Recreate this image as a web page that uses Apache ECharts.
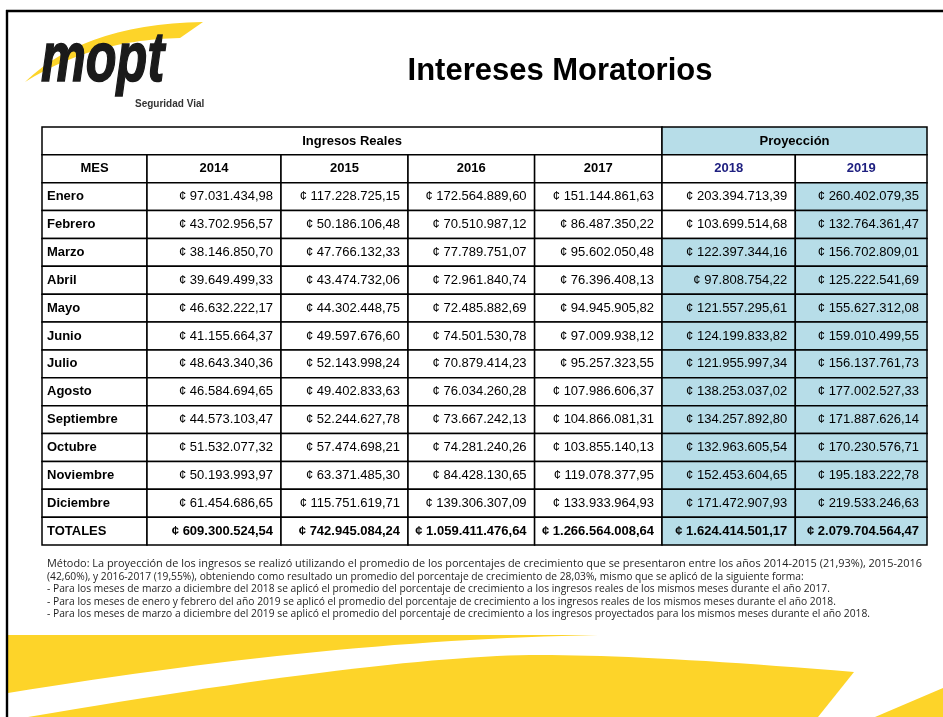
<!DOCTYPE html>
<html>
<head>
<meta charset="utf-8">
<title>Intereses Moratorios</title>
<script src="https://cdn.jsdelivr.net/npm/echarts@6/dist/echarts.min.js"></script>
<style>
  html, body { margin: 0; padding: 0; background: #fff; }
  #main { width: 943px; height: 717px; }
</style>
</head>
<body>
<div id="main"></div>
<script>
// datos de la tabla
var meses = ['Enero', 'Febrero', 'Marzo', 'Abril', 'Mayo', 'Junio', 'Julio', 'Agosto',
             'Septiembre', 'Octubre', 'Noviembre', 'Diciembre'];
var anios = ['2014', '2015', '2016', '2017', '2018', '2019'];
var grupos = ['Ingresos Reales', 'Proyección'];

var v2014 = [97031434.98, 43702956.57, 38146850.70, 39649499.33, 46632222.17, 41155664.37,
             48643340.36, 46584694.65, 44573103.47, 51532077.32, 50193993.97, 61454686.65];
var v2015 = [117228725.15, 50186106.48, 47766132.33, 43474732.06, 44302448.75, 49597676.60,
             52143998.24, 49402833.63, 52244627.78, 57474698.21, 63371485.30, 115751619.71];
var v2016 = [172564889.60, 70510987.12, 77789751.07, 72961840.74, 72485882.69, 74501530.78,
             70879414.23, 76034260.28, 73667242.13, 74281240.26, 84428130.65, 139306307.09];
var v2017 = [151144861.63, 86487350.22, 95602050.48, 76396408.13, 94945905.82, 97009938.12,
             95257323.55, 107986606.37, 104866081.31, 103855140.13, 119078377.95, 133933964.93];
var v2018 = [203394713.39, 103699514.68, 122397344.16, 97808754.22, 121557295.61, 124199833.82,
             121955997.34, 138253037.02, 134257892.80, 132963605.54, 152453604.65, 171472907.93];
var v2019 = [260402079.35, 132764361.47, 156702809.01, 125222541.69, 155627312.08, 159010499.55,
             156137761.73, 177002527.33, 171887626.14, 170230576.71, 195183222.78, 219533246.63];
var totales = [609300524.54, 742945084.24, 1059411476.64, 1266564008.64, 1624414501.17, 2079704564.47];
// a partir de que mes cada anio es proyectado (indice de mes)
var inicioProyeccion = [99, 99, 99, 99, 2, 0];

var notas = [
  'Método: La proyección de los ingresos se realizó utilizando el promedio de los porcentajes de crecimiento que se presentaron entre los años 2014-2015 (21,93%), 2015-2016',
  '(42,60%), y 2016-2017 (19,55%), obteniendo como resultado un promedio del porcentaje de crecimiento de 28,03%, mismo que se aplicó de la siguiente forma:',
  '- Para los meses de marzo a diciembre del 2018 se aplicó el promedio del porcentaje de crecimiento a los ingresos reales de los mismos meses durante el año 2017.',
  '- Para los meses de enero y febrero del año 2019 se aplicó el promedio del porcentaje de crecimiento a los ingresos reales de los mismos meses durante el año 2018.',
  '- Para los meses de marzo a diciembre del 2019 se aplicó el promedio del porcentaje de crecimiento a los ingresos proyectados para los mismos meses durante el año 2018.'
];

// --- layout ---
var bordes = [0, 105, 239, 366, 492.6, 620, 753.3, 885]; // bordes de columnas (unidades eje x)
var AZUL = '#B7DDE8';
var AMARILLO = '#FDD429';
var NAVY = '#1f2080';
var FUENTE = '"Liberation Sans", Arial, sans-serif';

function colones(n) {
  var s = n.toFixed(2).split('.');
  return '¢ ' + s[0].replace(/\B(?=(\d{3})+(?!\d))/g, '.') + ',' + s[1];
}

var columnas = [v2014, v2015, v2016, v2017, v2018, v2019];
var celdas = [];
function celda(c0, c1, r, text, o) {
  o = o || {};
  celdas.push({ x0: bordes[c0], x1: bordes[c1], r: r, text: text,
    align: o.align || 'center', bold: !!o.bold, fill: o.fill || '#fff', color: o.color || '#000' });
}
// encabezados
celda(0, 5, 0, grupos[0], { bold: true });
celda(5, 7, 0, grupos[1], { bold: true, fill: AZUL });
celda(0, 1, 1, 'MES', { bold: true });
anios.forEach(function (a, i) {
  celda(i + 1, i + 2, 1, a, { bold: true, color: i >= 4 ? NAVY : '#000' });
});
// meses
meses.forEach(function (m, j) {
  celda(0, 1, j + 2, m, { bold: true, align: 'left' });
  columnas.forEach(function (col, i) {
    celda(i + 1, i + 2, j + 2, colones(col[j]),
      { align: 'right', fill: j >= inicioProyeccion[i] ? AZUL : '#fff' });
  });
});
// totales
celda(0, 1, 14, 'TOTALES', { bold: true, align: 'left' });
totales.forEach(function (t, i) {
  celda(i + 1, i + 2, 14, colones(t), { bold: true, align: 'right', fill: i >= 4 ? AZUL : '#fff' });
});

// puntos de una curva cuadratica
function quad(p0, c, p1, n) {
  var pts = [];
  for (var k = 0; k <= n; k++) {
    var t = k / n, u = 1 - t;
    pts.push([u * u * p0[0] + 2 * u * t * c[0] + t * t * p1[0],
              u * u * p0[1] + 2 * u * t * c[1] + t * t * p1[1]]);
  }
  return pts;
}

// medir texto para ajustar las notas
var ctx = document.createElement('canvas').getContext('2d');
var FNOTA = '10.5px "Open Sans", Lato, sans-serif';
ctx.font = FNOTA;
var escala = 823 / ctx.measureText(notas[4]).width;
var escala1 = 875 / ctx.measureText(notas[0]).width;

var grafNotas = notas.map(function (t, i) {
  return {
    type: 'text', x: 47, y: 564.5 + i * 12.5, scaleX: i === 0 ? escala1 : escala,
    style: { text: t, x: 0, y: 0, font: FNOTA, fill: '#1e1e1e', verticalAlign: 'middle', align: 'left' },
    z: 10
  };
});

var barraArriba = [[8, 635], [598, 635]].concat(quad([598, 635], [330, 640], [8, 693], 30));
var barraMedio = quad([28, 717], [393, 655], [540, 655], 30)
  .concat(quad([540, 655], [650, 655], [854, 672], 20))
  .concat([[818, 717]]);
var barraDer = [[875, 717], [943, 688], [943, 717]];
var swoosh = quad([25, 82], [85, 24], [203, 22], 30).concat([[180, 38]])
  .concat(quad([180, 38], [92, 40], [25, 82], 30));

var chart = echarts.init(document.getElementById('main'), null, { renderer: 'canvas' });
chart.setOption({
  animation: false,
  backgroundColor: '#fff',
  grid: { left: 42, top: 127, width: 885, height: 418 },
  xAxis: { type: 'value', min: 0, max: 885, show: false },
  yAxis: { type: 'value', min: 0, max: 15, inverse: true, show: false },
  graphic: [
    { type: 'polygon', shape: { points: barraArriba }, style: { fill: AMARILLO }, silent: true },
    { type: 'polygon', shape: { points: barraMedio }, style: { fill: AMARILLO }, silent: true },
    { type: 'polygon', shape: { points: barraDer }, style: { fill: AMARILLO }, silent: true },
    { type: 'line', shape: { x1: 6, y1: 11, x2: 943, y2: 11 }, style: { stroke: '#000', lineWidth: 2.4 }, z: 20 },
    { type: 'line', shape: { x1: 7, y1: 10, x2: 7, y2: 717 }, style: { stroke: '#000', lineWidth: 2.4 }, z: 20 },
    { type: 'polygon', shape: { points: swoosh }, style: { fill: AMARILLO } },
    {
      type: 'text', x: 41, y: 97, scaleX: 0.72, z: 5,
      style: { text: 'mopt', x: 0, y: 0, font: 'italic bold 70px ' + FUENTE, fill: '#1a1a1a',
               stroke: '#1a1a1a', lineWidth: 1.6, align: 'left', verticalAlign: 'bottom' }
    },
    {
      type: 'text', x: 135, y: 104,
      style: { text: 'Seguridad Vial', x: 0, y: 0, font: 'bold 10px ' + FUENTE, fill: '#333',
               align: 'left', verticalAlign: 'middle' }
    },
    {
      type: 'text', x: 560, y: 71,
      style: { text: 'Intereses Moratorios', x: 0, y: 0, font: 'bold 31px ' + FUENTE, fill: '#000',
               align: 'center', verticalAlign: 'middle' }
    }
  ].concat(grafNotas),
  series: [{
    type: 'custom',
    clip: false,
    silent: true,
    data: celdas.map(function (c) { return [c.x0, c.x1, c.r]; }),
    encode: { x: [0, 1], y: 2 },
    renderItem: function (params, api) {
      var c = celdas[params.dataIndex];
      var a = api.coord([api.value(0), api.value(2)]);
      var b = api.coord([api.value(1), api.value(2) + 1]);
      var x = a[0], y = Math.min(a[1], b[1]);
      var w = b[0] - a[0], h = Math.abs(b[1] - a[1]);
      var tx = c.align === 'left' ? x + 5 : (c.align === 'right' ? x + w - 8 : x + w / 2);
      return {
        type: 'group',
        children: [
          { type: 'rect', shape: { x: x, y: y, width: w, height: h },
            style: { fill: c.fill, stroke: '#000', lineWidth: 1.5 } },
          { type: 'text',
            style: { text: c.text, x: tx, y: y + h / 2, align: c.align, verticalAlign: 'middle',
                     font: (c.bold ? 'bold ' : '') + '13px ' + FUENTE, fill: c.color } }
        ]
      };
    }
  }]
});
</script>
</body>
</html>
